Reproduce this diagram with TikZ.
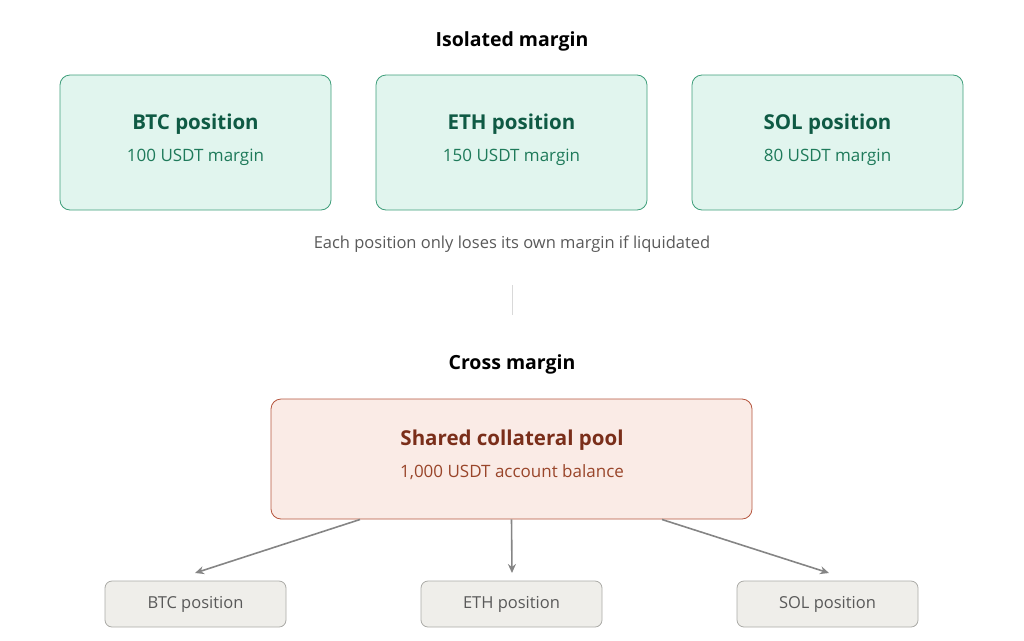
\documentclass[tikz,border=0pt]{standalone}
\usepackage{fontspec}
\setmainfont{Open Sans}
\usetikzlibrary{arrows.meta}
\definecolor{gfill}{HTML}{E1F5EE}\definecolor{gline}{HTML}{3E9E7A}
\definecolor{gtxt}{HTML}{0F5A44}\definecolor{gsub}{HTML}{1E7A5A}
\definecolor{rfill}{HTML}{FAEBE6}\definecolor{rline}{HTML}{B5553D}
\definecolor{rtxt}{HTML}{7A2E1A}\definecolor{rsub}{HTML}{99452A}
\definecolor{nfill}{HTML}{EFEEEA}\definecolor{nline}{HTML}{AAAAA6}
\begin{document}
\begin{tikzpicture}[x=1pt,y=-1pt,
 gbox/.style={draw=gline,fill=gfill,rounded corners=10pt,minimum width=271pt,minimum height=135pt,line width=0.8pt},
 rbox/.style={draw=rline,fill=rfill,rounded corners=10pt,minimum width=481pt,minimum height=120pt,line width=0.8pt},
 nbox/.style={draw=nline,fill=nfill,rounded corners=7pt,minimum width=181pt,minimum height=46pt,line width=0.8pt,font=\fontsize{16.5}{19}\selectfont,text=black!65},
 ttl/.style={font=\fontsize{19.5}{23}\selectfont\bfseries},
 hd/.style={font=\fontsize{20.5}{24}\selectfont\bfseries},
 sb/.style={font=\fontsize{17}{20}\selectfont},
 arr/.style={draw=black!48,line width=1.6pt,-{Stealth[length=9pt,width=8pt]}}]
\useasboundingbox (0,0) rectangle (1024,640);
\node[ttl] (t1) at (512,41) {Isolated margin};
\node[gbox] (b1) at (195.5,142.5) {};
\node[gbox] (b2) at (511.5,142.5) {};
\node[gbox] (b3) at (827.5,142.5) {};
\foreach \n/\x/\a/\b in {b1/195.5/BTC position/100 USDT margin,b2/511.5/ETH position/150 USDT margin,b3/827.5/SOL position/80 USDT margin}{
 \node[hd,text=gtxt] (\n h) at (\x,124) {\a};
 \node[sb,text=gsub] (\n s) at (\x,157) {\b};}
\node[font=\fontsize{16.5}{19}\selectfont,text=black!65] (cap) at (512,244) {Each position only loses its own margin if liquidated};
\coordinate (v1) at (512,285); \coordinate (v2) at (512,315);
\draw[black!15,line width=1pt] (v1) -- (v2);
\node[ttl] (t2) at (512,364) {Cross margin};
\node[rbox] (p) at (511.5,459) {};
\node[hd,text=rtxt] (ph) at (512,440) {Shared collateral pool};
\node[sb,text=rsub] (ps) at (512,472) {1,000 USDT account balance};
\node[nbox] (n1) at (195.5,604) {BTC position};
\node[nbox] (n2) at (511.5,604) {ETH position};
\node[nbox] (n3) at (827.5,604) {SOL position};
\coordinate (s1) at (360,519.5); \coordinate (s3) at (662,519.5);
\coordinate (e1) at (195,573); \coordinate (e2) at (512,573); \coordinate (e3) at (829,573);
\draw[arr] (s1) -- (e1);
\draw[arr] (p.south) -- (e2);
\draw[arr] (s3) -- (e3);
\end{tikzpicture}
\end{document}
